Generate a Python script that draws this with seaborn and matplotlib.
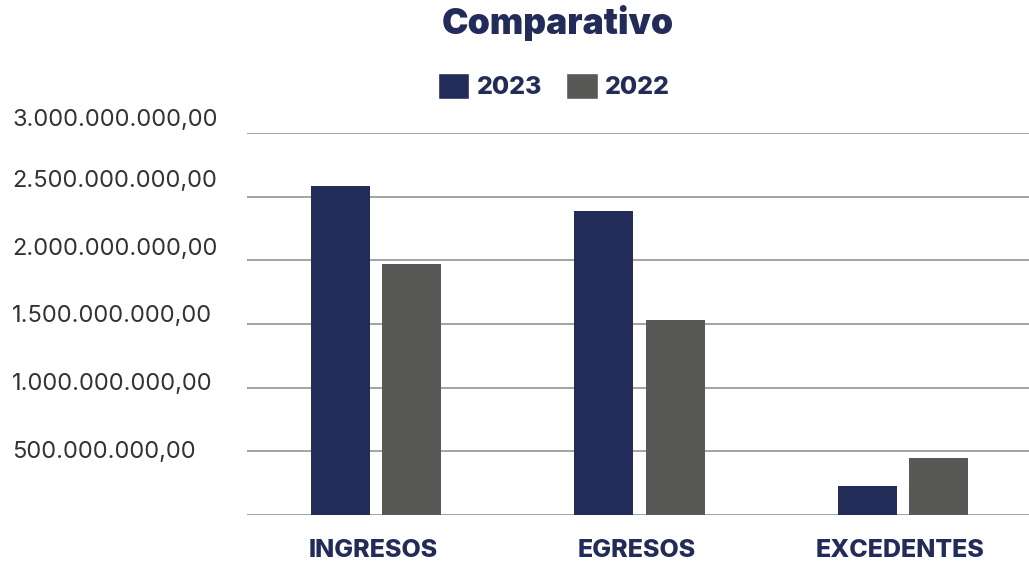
import matplotlib
matplotlib.use("Agg")
import matplotlib.pyplot as plt
import seaborn as sns
import pandas as pd
from matplotlib.transforms import ScaledTranslation
from matplotlib.patches import Patch

categories = ["INGRESOS", "EGRESOS", "EXCEDENTES"]
years = ["2023", "2022"]
values_2023 = [2.58e9, 2.39e9, 0.23e9]
values_2022 = [1.975e9, 1.53e9, 0.445e9]
ytick_values = [0, 5e8, 1e9, 1.5e9, 2e9, 2.5e9, 3e9]
ytick_labels = ["", "500.000.000,00", "1.000.000.000,00", "1.500.000.000,00",
                "2.000.000.000,00", "2.500.000.000,00", "3.000.000.000,00"]

NAVY = "#232B58"
GRAY = "#585857"

df = pd.DataFrame({
    "categoria": categories * 2,
    "anio": [years[0]] * 3 + [years[1]] * 3,
    "valor": values_2023 + values_2022,
})

sns.set_theme(style="white")
plt.rcParams["font.family"] = ["Inter", "DejaVu Sans"]

W, H = 1029, 561
fig = plt.figure(figsize=(W / 100, H / 100), dpi=100)
ax = fig.add_axes([247 / W, (H - 515) / H, (1029 - 247) / W, (515 - 133) / H])

sns.barplot(data=df, x="categoria", y="valor", hue="anio", hue_order=years,
            order=categories, palette={years[0]: NAVY, years[1]: GRAY},
            width=0.54, gap=0.169, saturation=1, ax=ax, zorder=3,
            legend=False, linewidth=0, edgecolor="none")

ax.set_ylim(0, 3e9)
ax.set_xlim(-0.4896, 2.4782)
ax.set_yticks(ytick_values)
ax.set_yticklabels(ytick_labels)
ax.yaxis.grid(True, color="#A3A3A3", linewidth=1.4, zorder=0)
ax.xaxis.grid(False)
for s in ax.spines.values():
    s.set_visible(False)
ax.set_xlabel("")
ax.set_ylabel("")

ax.tick_params(axis="y", length=0, pad=235 * 72 / 100, labelsize=17, labelcolor="#333333")
ax.tick_params(axis="x", length=0, pad=17, labelsize=18, labelcolor=NAVY)
offsets_px = [0, 2, 6, 10, 14, 18, 15]
for lab, dy in zip(ax.get_yticklabels(), offsets_px):
    lab.set_horizontalalignment("left")
    lab.set_transform(lab.get_transform() + ScaledTranslation(0, dy / 100, fig.dpi_scale_trans))
for lab in ax.get_xticklabels():
    lab.set_fontweight("heavy")
    lab.set_transform(lab.get_transform() + ScaledTranslation(-3 / 100, 0, fig.dpi_scale_trans))

fig.text(558 / W, 1 - 23 / H, "Comparativo", ha="center", va="center",
         fontsize=25.5, fontweight="black", color=NAVY)

handles = [Patch(facecolor=NAVY, label=years[0]), Patch(facecolor=GRAY, label=years[1])]
leg = fig.legend(handles=handles, loc="center", bbox_to_anchor=(554 / W, 1 - 86 / H),
                 ncol=2, frameon=False, fontsize=18, handlelength=1.25, handleheight=1.25,
                 handletextpad=0.3, columnspacing=0.96, borderaxespad=0)
for t in leg.get_texts():
    t.set_color(NAVY)
    t.set_fontweight("heavy")

fig.savefig("out.png", dpi=100)
